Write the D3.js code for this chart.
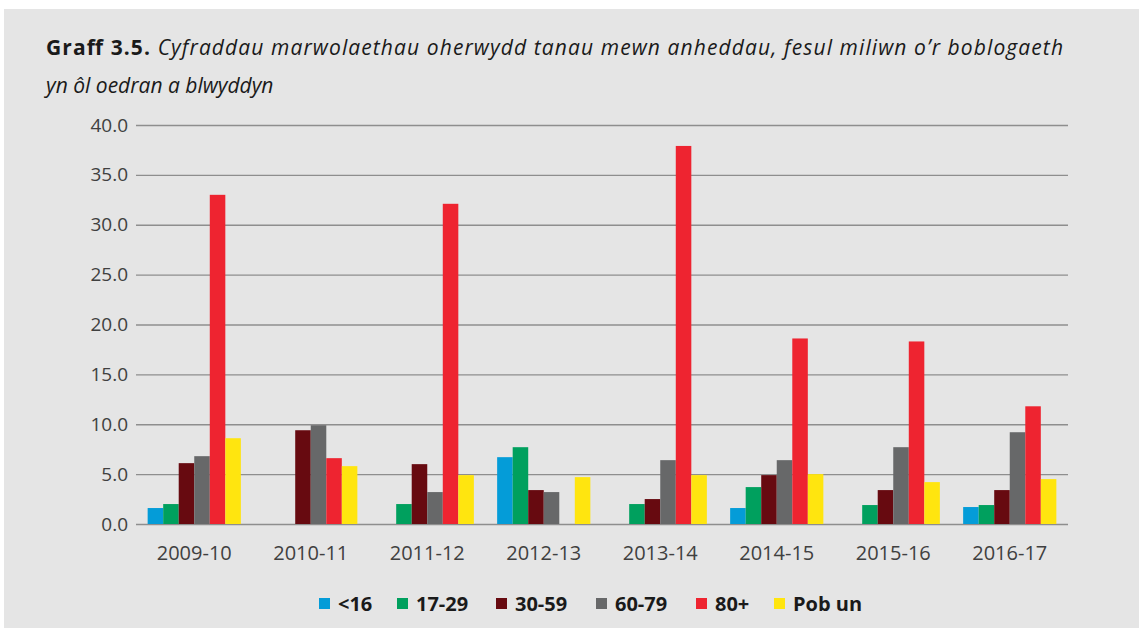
<!DOCTYPE html>
<html>
<head>
<meta charset="utf-8">
<script src="https://cdn.jsdelivr.net/npm/d3@7"></script>
<style>
  body { margin: 0; background: #fff; }
  svg { display: block; }
</style>
</head>
<body>
<svg id="chart" width="1139" height="628"></svg>
<script>
const years = ['2009-10', '2010-11', '2011-12', '2012-13', '2013-14', '2014-15', '2015-16', '2016-17'];
const groups = ['<16', '17-29', '30-59', '60-79', '80+', 'Pob un'];
const colors = ['#049cd8', '#00a05e', '#670a10', '#676869', '#ee2430', '#ffe50f'];

// rates per million, one array per age group
const under16 = [1.6, 0, 0, 6.7, 0, 1.6, 0, 1.7];
const age17to29 = [2.0, 0, 2.0, 7.7, 2.0, 3.7, 1.9, 1.9];
const age30to59 = [6.1, 9.4, 6.0, 3.4, 2.5, 4.9, 3.4, 3.4];
const age60to79 = [6.8, 9.9, 3.2, 3.2, 6.4, 6.4, 7.7, 9.2];
const age80plus = [33.0, 6.6, 32.1, 0, 37.9, 18.6, 18.3, 11.8];
const allAges = [8.6, 5.8, 4.9, 4.7, 4.9, 5.0, 4.2, 4.5];
const yTicks = [0, 5, 10, 15, 20, 25, 30, 35, 40];

const series = [under16, age17to29, age30to59, age60to79, age80plus, allAges];

const svg = d3.select('#chart');
const margin = { top: 125, right: 71, bottom: 104, left: 136 };
const width = 1139 - margin.left - margin.right,
  height = 628 - margin.top - margin.bottom;

svg.append('rect')
  .attr('x', 4).attr('y', 9)
  .attr('width', 1135).attr('height', 619)
  .attr('fill', '#e5e5e5');

let title = svg.append('text')
  .attr('x', 46).attr('y', 55)
  .attr('textLength', 1017).attr('lengthAdjust', 'spacing')
  .style('font-family', '"Open Sans", sans-serif')
  .style('font-size', '21px')
  .attr('fill', '#1a1a1a');
title.append('tspan').style('font-weight', 'bold').text('Graff 3.5. ');
title.append('tspan').style('font-style', 'italic')
  .text('Cyfraddau marwolaethau oherwydd tanau mewn anheddau, fesul miliwn o’r boblogaeth');
svg.append('text')
  .attr('x', 46).attr('y', 93)
  .style('font-family', '"Open Sans", sans-serif')
  .style('font-size', '21px')
  .style('font-style', 'italic')
  .attr('fill', '#1a1a1a')
  .text('yn ôl oedran a blwyddyn');

let frame = svg.append('g')
  .attr('transform', `translate(${margin.left},${margin.top})`);

let x0 = d3.scaleBand().domain(years).range([0, width]).paddingInner(0.2).paddingOuter(0.1);
let x1 = d3.scaleBand().domain(d3.range(groups.length)).range([0, x0.bandwidth()]);
let y = d3.scaleLinear().domain([0, 40]).range([height, 0]);

let yAxis = frame.append('g')
  .call(d3.axisLeft(y).tickValues(yTicks).tickFormat(d3.format('.1f')).tickSize(-width).tickPadding(8));
yAxis.select('.domain').remove();
yAxis.selectAll('.tick line').attr('stroke', '#8e8e8e').attr('stroke-width', 1.4);
yAxis.selectAll('.tick text')
  .attr('fill', '#404040')
  .style('font-family', '"Open Sans", sans-serif')
  .style('font-size', '19px');

let yearGroups = frame.selectAll('.year')
  .data(years)
  .enter().append('g')
    .attr('class', 'year')
    .attr('transform', d => `translate(${x0(d)},0)`);

yearGroups.selectAll('rect')
  .data((d, i) => series.map((s, j) => ({ j: j, v: s[i] })))
  .enter().append('rect')
    .attr('x', d => x1(d.j))
    .attr('width', x1.bandwidth())
    .attr('y', d => y(d.v))
    .attr('height', d => height - y(d.v))
    .attr('fill', d => colors[d.j]);

let xAxis = frame.append('g')
  .attr('transform', `translate(0,${height})`)
  .call(d3.axisBottom(x0).tickSize(0).tickPadding(22));
xAxis.select('.domain').remove();
xAxis.selectAll('.tick text')
  .attr('fill', '#404040')
  .style('font-family', '"Open Sans", sans-serif')
  .style('font-size', '20px');

// legend
let legend = svg.append('g').attr('transform', 'translate(0,611)');
let legendX = [319, 397, 496, 596, 696, 774];
let items = legend.selectAll('g')
  .data(groups)
  .enter().append('g')
    .attr('transform', (d, i) => `translate(${legendX[i]},0)`);
items.append('rect')
  .attr('x', 0).attr('y', -13)
  .attr('width', 11).attr('height', 11)
  .attr('fill', (d, i) => colors[i]);
items.append('text')
  .attr('x', 19).attr('y', 0)
  .attr('fill', '#1a1a1a')
  .style('font-family', '"Open Sans", sans-serif')
  .style('font-size', '20px')
  .style('font-weight', 'bold')
  .text(d => d);
</script>
</body>
</html>
